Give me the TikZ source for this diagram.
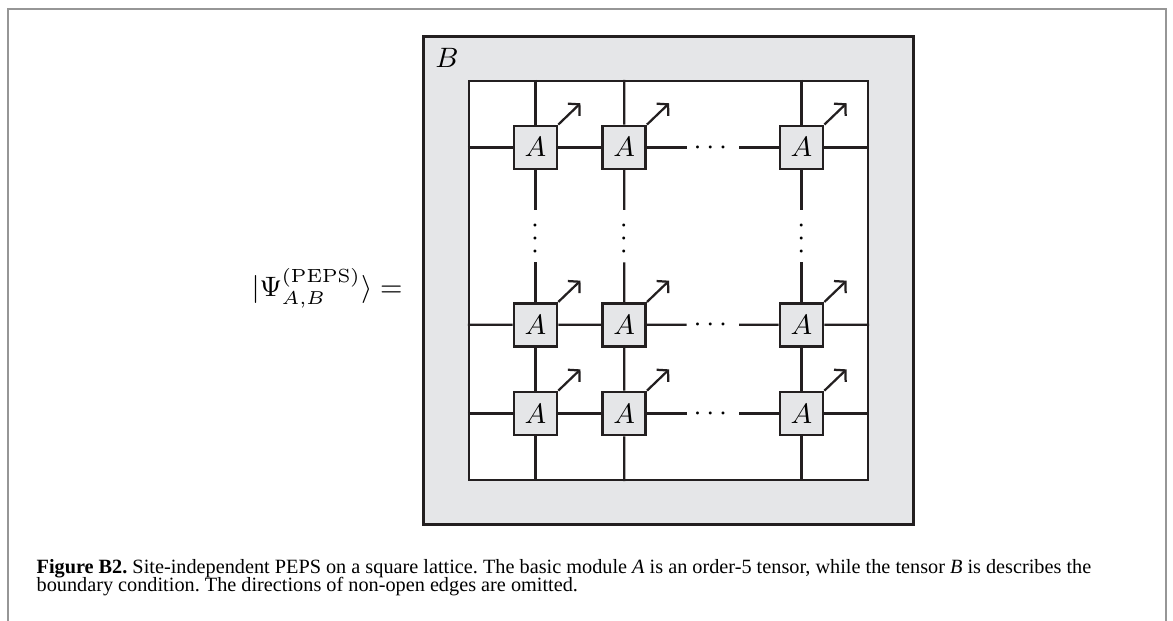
\documentclass[tikz,border=0pt]{standalone}
\usepackage{amsmath}
\usepackage{fontspec}
\usetikzlibrary{positioning,calc,arrows.meta}
\newfontfamily\capfont{Liberation Serif}
\definecolor{tnfill}{RGB}{229,230,232}
\definecolor{tnline}{RGB}{35,31,32}
\definecolor{framegray}{RGB}{150,150,150}

\begin{document}
\begin{tikzpicture}[font=\fontsize{8.7}{10}\selectfont,
    tensor/.style={draw=tnline,fill=tnfill,line width=0.85pt,minimum size=0.485cm,inner sep=0pt},
    bond/.style={draw=tnline,line width=0.72pt},
    phys/.style={bond,-{Straight Barb[length=2.5pt,width=5.4pt]}},
    dotsnode/.style={inner sep=2.25pt,outer sep=0pt,text height=4.35pt,text depth=0pt}]
  \useasboundingbox (-7.537,-3.839) rectangle (5.688,3.162);
  % frame round the figure, open at the bottom
  \draw[framegray,line width=0.6pt] (-7.447,-3.839) |- (5.609,3.061) -- (5.609,-3.839);
  % boundary tensor B with the lattice inside
  \node[draw=tnline,fill=tnfill,line width=0.8pt,minimum width=5.524cm,minimum height=5.5cm] (bnd) at (0,0) {};
  \node[inner sep=4pt,below right=0pt of bnd.north west] (blabel) {$B$};
  \node[draw=tnline,fill=white,line width=0.72pt,minimum size=4.5cm] (inner) at (0,0) {};
  % the A tensors
  \foreach \r/\y in {1/1.5,2/-0.5,3/-1.5}
    \foreach \c/\x in {1/-1.5,2/-0.5,3/1.5}
      \node[tensor] (a\r\c) at (\x,\y) {$A$};
  \foreach \r in {1,2,3}
    \node[dotsnode] (dh\r) at ($(a\r2)!.5!(a\r3)$) {$\cdots$};
  \foreach \c in {1,2,3}
    \node[dotsnode,rotate=90] (dv\c) at ($(a1\c)!.5!(a2\c)$) {$\cdots$};
  % virtual bonds
  \foreach \r in {1,2,3}
    \draw[bond] (inner.west |- a\r1) -- (a\r1) -- (a\r2) -- (dh\r) -- (a\r3) -- (inner.east |- a\r3);
  \foreach \c in {1,2,3}
    \draw[bond] (inner.north -| a1\c) -- (a1\c) -- (dv\c) -- (a2\c) -- (a3\c) -- (inner.south -| a3\c);
  % physical legs
  \foreach \r in {1,2,3}
    \foreach \c in {1,2,3}
      \draw[phys] (a\r\c.north east) -- ++(0.25,0.24) coordinate (p\r\c);
  \node[inner sep=0pt,anchor=base east] (psi) at (-2.99,-0.183) {$|\Psi^{(\mathrm{PEPS})}_{A,B}\rangle =$};
  % caption
  \node[anchor=base west,inner sep=0pt,font=\capfont\frenchspacing\fontsize{6.5}{7}\selectfont] (cap1) at (-7.131,-3.309)
    {\textbf{Figure B2.} Site-independent PEPS on a square lattice. The basic module \textit{A} is an order-5 tensor, while the tensor \textit{B} is describes the};
  \node[anchor=base west,inner sep=0pt,font=\capfont\frenchspacing\fontsize{6.5}{7}\selectfont] (cap2) at (-7.131,-3.504)
    {boundary condition. The directions of non-open edges are omitted.};
\end{tikzpicture}
\end{document}
